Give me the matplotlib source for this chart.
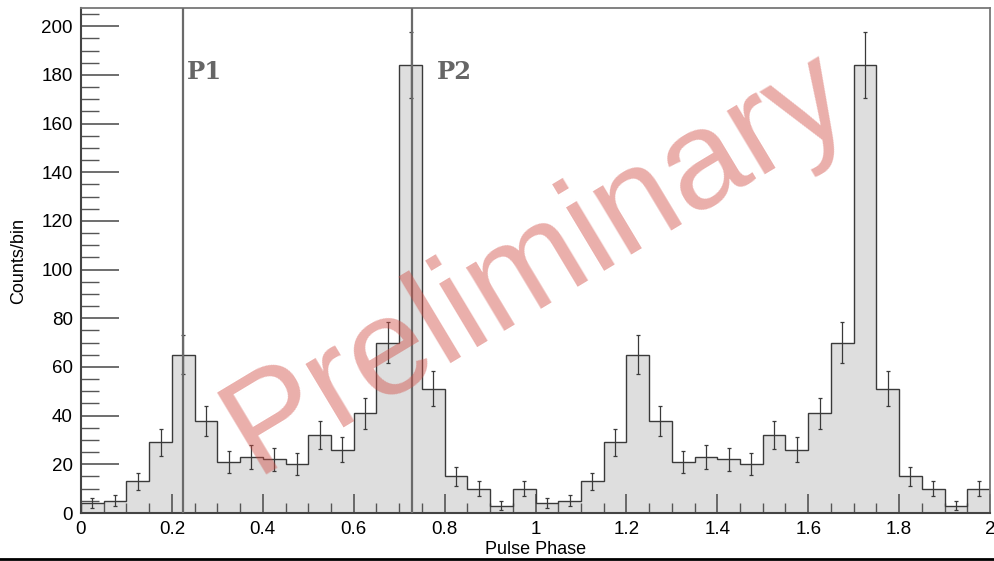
"""Pulse phase profile with P1/P2 markers, plotted over two rotations"""
import numpy as np
import matplotlib
matplotlib.use("Agg")
from matplotlib import pyplot as plt
from matplotlib.lines import Line2D
from matplotlib.ticker import MultipleLocator

plt.rcParams['font.family'] = ['Liberation Sans', 'DejaVu Sans']

# bin edges: 40 bins of 0.05 in phase, two full rotations
phase_edges = np.linspace(0.0, 2.0, 41)
counts = [4, 5, 13, 29, 65, 38, 21, 23, 22, 20,
          32, 26, 41, 70, 184, 51, 15, 10, 3, 10,
          4, 5, 13, 29, 65, 38, 21, 23, 22, 20,
          32, 26, 41, 70, 184, 51, 15, 10, 3, 10]
peak_phases = [0.225, 0.728]
peak_names = ["P1", "P2"]

counts = np.array(counts, dtype=float)
errors = np.sqrt(counts)
centers = 0.5 * (phase_edges[:-1] + phase_edges[1:])

fig = plt.figure(figsize=(9.95, 5.61), dpi=100)
ax = fig.add_axes([81 / 995, 1 - 513 / 561, 909 / 995, 505 / 561])

ax.stairs(counts, phase_edges, fill=True, color="#dedede", zorder=1)
ax.stairs(counts, phase_edges, color="#3a3a3a", linewidth=1.0, zorder=2)
ax.errorbar(centers, counts, yerr=errors, fmt="none", ecolor="#3a3a3a",
            elinewidth=0.9, capsize=1.2, capthick=0.9, zorder=3)

# peak markers
for ph in peak_phases:
    ax.axvline(ph, color="#6a6a6a", linewidth=1.6, zorder=4)
ax.text(peak_phases[0] + 0.008, 178.5, peak_names[0], family="DejaVu Serif",
        fontweight="bold", fontsize=17.5, color="#666666", zorder=5)
ax.text(peak_phases[1] + 0.055, 178.5, peak_names[1], family="DejaVu Serif",
        fontweight="bold", fontsize=17.5, color="#666666", zorder=5)

ax.set_xlim(0, 2)
ax.set_ylim(0, 207.5)

ax.xaxis.set_major_locator(MultipleLocator(0.2))
ax.xaxis.set_minor_locator(MultipleLocator(0.05))
ax.yaxis.set_major_locator(MultipleLocator(20))
ax.yaxis.set_minor_locator(MultipleLocator(5))
ax.xaxis.set_major_formatter(plt.FuncFormatter(lambda v, p: f"{v:g}"))

ax.tick_params(axis="x", which="major", direction="in", length=14, width=1.2,
               color="#555555", labelsize=13.5, pad=6)
ax.tick_params(axis="x", which="minor", direction="in", length=7, width=1.0,
               color="#555555")
ax.tick_params(axis="y", which="major", direction="in", length=27, width=1.2,
               color="#555555", labelsize=13.5, pad=6)
ax.tick_params(axis="y", which="minor", direction="in", length=13, width=1.0,
               color="#555555")

for side in ["left", "bottom"]:
    ax.spines[side].set_color("#444444")
    ax.spines[side].set_linewidth(1.5)
for side in ["top", "right"]:
    ax.spines[side].set_color("#777777")
    ax.spines[side].set_linewidth(1.3)

ax.set_xlabel("Pulse Phase", fontsize=13, labelpad=2)
ax.set_ylabel("Counts/bin", fontsize=13, labelpad=10)
ax.xaxis.set_label_coords(0.5, -0.055)

# watermark
ax.text(0.502, 0.495, "Preliminary", transform=ax.transAxes, fontsize=101,
        color=(0.82, 0.30, 0.27), alpha=0.45, rotation=31,
        ha="center", va="center", zorder=10)

fig.add_artist(Line2D([0, 1], [0.004, 0.004], color="black", linewidth=2.0))

fig.savefig("out.png", dpi=100)
